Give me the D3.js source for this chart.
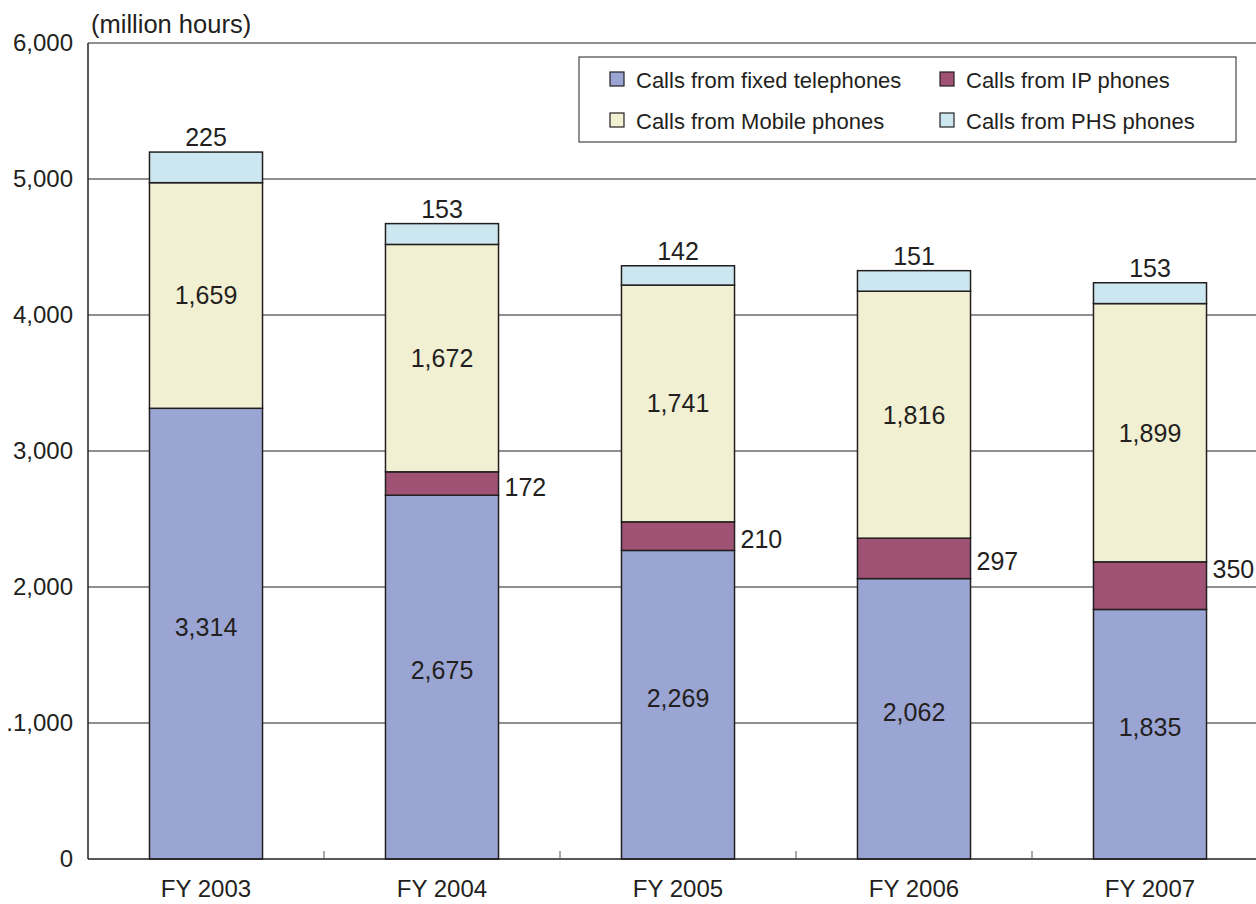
<!DOCTYPE html>
<html><head><meta charset="utf-8">
<script src="https://cdn.jsdelivr.net/npm/d3@7"></script>
<style>body{margin:0;background:#fff}svg{display:block}text{font-family:"Liberation Sans",Arial,sans-serif;fill:#231f20}</style>
</head><body>
<svg id="c" width="1256" height="904"></svg>
<script>
const categories = ["FY 2003","FY 2004","FY 2005","FY 2006","FY 2007"];
const fixedVals  = [3314, 2675, 2269, 2062, 1835];
const ipVals     = [0, 172, 210, 297, 350];
const mobileVals = [1659, 1672, 1741, 1816, 1899];
const phsVals    = [225, 153, 142, 151, 153];
const yTicks = [0,1000,2000,3000,4000,5000,6000];
const yTickLabels = ["0",".1,000","2,000","3,000","4,000","5,000","6,000"];
const seriesNames = ["Calls from fixed telephones","Calls from IP phones","Calls from Mobile phones","Calls from PHS phones"];
const seriesColors = ["#9ba5d3","#a05275","#f2f0d3","#cde7f1"];

(function(){
const svg = d3.select("#c");
const pl=88, pr=1268, pt=43, pb=859;
const x = d3.scaleBand().domain(categories).range([pl,pr]).paddingInner(0.521).paddingOuter(0.2605);
const y = d3.scaleLinear().domain([0,6000]).range([pb,pt]);

svg.append("g").selectAll("line").data(yTicks.slice(1)).join("line")
  .attr("x1",pl).attr("x2",pr).attr("y1",d=>y(d)).attr("y2",d=>y(d))
  .attr("stroke","#231f20").attr("stroke-width",1);

svg.append("g").selectAll("text").data(yTicks).join("text")
  .attr("x",73).attr("y",d=>y(d)+8).attr("text-anchor","end").attr("font-size",24)
  .text((d,i)=>yTickLabels[i]);

svg.append("text").attr("x",91).attr("y",33).attr("font-size",25.5).text("(million hours)");

const keys = ["fixed","ip","mobile","phs"];
const rows = categories.map((c,i)=>({cat:c,fixed:fixedVals[i],ip:ipVals[i],mobile:mobileVals[i],phs:phsVals[i]}));
const stack = d3.stack().keys(keys)(rows);
const g = svg.append("g");
stack.forEach((layer,k)=>{
  g.selectAll(null).data(layer.filter(d=>d[1]-d[0]>0)).join("rect")
    .attr("x",d=>x(d.data.cat)).attr("width",x.bandwidth())
    .attr("y",d=>y(d[1])).attr("height",d=>y(d[0])-y(d[1]))
    .attr("fill",seriesColors[k]).attr("stroke","#231f20").attr("stroke-width",1.5);
});

const fmt = d3.format(",");
const lab = svg.append("g").attr("font-size",25);
stack[0].forEach(d=>lab.append("text").attr("x",x(d.data.cat)+x.bandwidth()/2).attr("y",(y(d[0])+y(d[1]))/2+2).attr("text-anchor","middle").text(fmt(d[1]-d[0])));
stack[2].forEach(d=>lab.append("text").attr("x",x(d.data.cat)+x.bandwidth()/2).attr("y",(y(d[0])+y(d[1]))/2+9).attr("text-anchor","middle").text(fmt(d[1]-d[0])));
stack[3].forEach(d=>lab.append("text").attr("x",x(d.data.cat)+x.bandwidth()/2).attr("y",y(d[1])-6).attr("text-anchor","middle").text(fmt(d[1]-d[0])));
stack[1].filter(d=>d[1]-d[0]>0).forEach(d=>lab.append("text").attr("x",x(d.data.cat)+x.bandwidth()+6).attr("y",Math.min((y(d[0])+y(d[1]))/2+12, 578)).text(fmt(d[1]-d[0])));

svg.append("line").attr("x1",pl).attr("x2",pl).attr("y1",pt).attr("y2",pb).attr("stroke","#231f20").attr("stroke-width",1.5);
svg.append("line").attr("x1",pl).attr("x2",pr).attr("y1",pb).attr("y2",pb).attr("stroke","#231f20").attr("stroke-width",1.5);
svg.append("g").selectAll("line").data(categories.slice(1)).join("line")
  .attr("x1",d=>x(d)-x.step()*x.paddingInner()/2).attr("x2",d=>x(d)-x.step()*x.paddingInner()/2)
  .attr("y1",pb).attr("y2",pb-8).attr("stroke","#555").attr("stroke-width",1);
svg.append("g").selectAll("text").data(categories).join("text")
  .attr("x",d=>x(d)+x.bandwidth()/2).attr("y",897).attr("text-anchor","middle").attr("font-size",24).text(d=>d);

const lg = svg.append("g");
lg.append("rect").attr("x",579).attr("y",57).attr("width",657).attr("height",85).attr("fill","#fff").attr("stroke","#231f20").attr("stroke-width",1);
const pos = [[610,80],[940,80],[610,121],[940,121]];
[0,1,2,3].forEach((k,i)=>{
  const [px,py]=pos[i];
  lg.append("rect").attr("x",px).attr("y",py-8).attr("width",14).attr("height",14).attr("fill",seriesColors[k]).attr("stroke","#231f20").attr("stroke-width",1.2);
  lg.append("text").attr("x",px+26).attr("y",py+8).attr("font-size",22).text(seriesNames[k]);
});
})();
</script>
</body></html>
